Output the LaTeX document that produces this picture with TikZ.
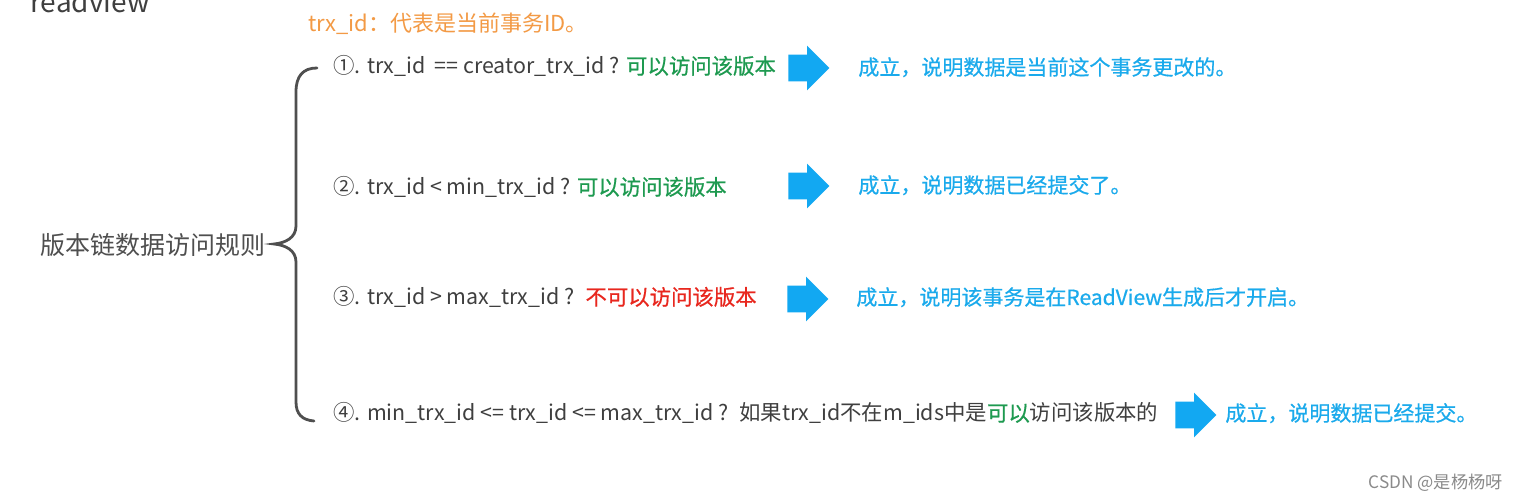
\documentclass[tikz,border=0pt]{standalone}
\usepackage{fontspec}
\setmainfont{Noto Sans CJK SC}
\usetikzlibrary{shapes.arrows}
\definecolor{txtgray}{HTML}{3F3F3F}
\definecolor{lblgray}{HTML}{4F4F4F}
\definecolor{okgreen}{HTML}{1E9A50}
\definecolor{nored}{HTML}{E8271E}
\definecolor{resblue}{HTML}{1AAAEC}
\definecolor{arrblue}{HTML}{12A8F2}
\definecolor{idorange}{HTML}{F39A45}
\definecolor{wmgray}{HTML}{8A8A8A}
\tikzset{
  rowtext/.style={anchor=base west, inner sep=0pt, text=txtgray, font=\fontsize{10.7}{12}\selectfont},
  restext/.style={anchor=base west, inner sep=0pt, text=resblue, font=\fontsize{10.5}{12}\selectfont\addfontfeatures{FakeBold=0.6}},
  barrow/.style={single arrow, anchor=west, fill=arrblue, draw=none, inner xsep=0pt, inner ysep=6.5pt,
    minimum height=20.5pt, single arrow head extend=4.5pt,
    single arrow head indent=0pt, shape border rotate=0},
  brace/.style={draw=lblgray, line width=1.4pt, line cap=round},
}
\newcommand{\gk}[1]{{\addfontfeatures{FakeBold=0.6}\textcolor{okgreen}{#1}}}
\newcommand{\rk}[1]{{\addfontfeatures{FakeBold=0.6}\textcolor{nored}{#1}}}
\begin{document}
\begin{tikzpicture}[x=0.5pt,y=-0.5pt]
\useasboundingbox (0,0) rectangle (1520,501);
\fill[white] (0,0) rectangle (1520,501);
% title (cut off at the top edge, as in the reference)
\node[anchor=base west, inner sep=0pt, text=txtgray, font=\fontsize{14}{16}\selectfont] (title) at (30,13) {readview};
\node[anchor=base west, inner sep=0pt, text=idorange, font=\fontsize{11}{13}\selectfont] (note) at (308,32) {trx\_id：代表是当前事务ID。};
% label
\node[anchor=west, inner sep=0pt, text=lblgray, font=\fontsize{12.5}{14}\selectfont] (lbl) at (40,245) {版本链数据访问规则};
% brace
\draw[brace] (317,68) .. controls (303,68) and (296,76) .. (296,92) -- (296,226)
  .. controls (296,238) and (285,243) .. (274,244)
  .. controls (285,245) and (296,250) .. (296,262) -- (296,402)
  .. controls (296,414) and (302,420) .. (314,421);
% rows
\node[rowtext] (r1) at (333,74) {①. trx\_id \ == creator\_trx\_id ? \gk{可以访问该版本}};
\node[rowtext] (r2) at (333,195) {②. trx\_id < min\_trx\_id ? \gk{可以访问该版本}};
\node[rowtext] (r3) at (333,305) {③. trx\_id > max\_trx\_id ? \ \rk{不可以访问该版本}};
\node[rowtext] (r4) at (333,421) {④. min\_trx\_id <= trx\_id <= max\_trx\_id ? \ 如果trx\_id不在m\_ids中是\gk{可以}访问该版本的};
% arrows
\node[barrow] (a1) at (788,68) {};
\node[barrow] (a2) at (788,186) {};
\node[barrow] (a3) at (787,299) {};
\node[barrow] (a4) at (1175,415) {};
% results
\node[restext] (s1) at (858,75) {成立，说明数据是当前这个事务更改的。};
\node[restext] (s2) at (858,193) {成立，说明数据已经提交了。};
\node[restext] (s3) at (856,305) {成立，说明该事务是在ReadView生成后才开启。};
\node[restext] (s4) at (1225,421) {成立，说明数据已经提交。};
% watermark
\node[anchor=base east, inner sep=0pt, text=wmgray, font=\fontsize{8.6}{10}\selectfont] (wm) at (1503,489) {CSDN @是杨杨呀};
\end{tikzpicture}
\end{document}
